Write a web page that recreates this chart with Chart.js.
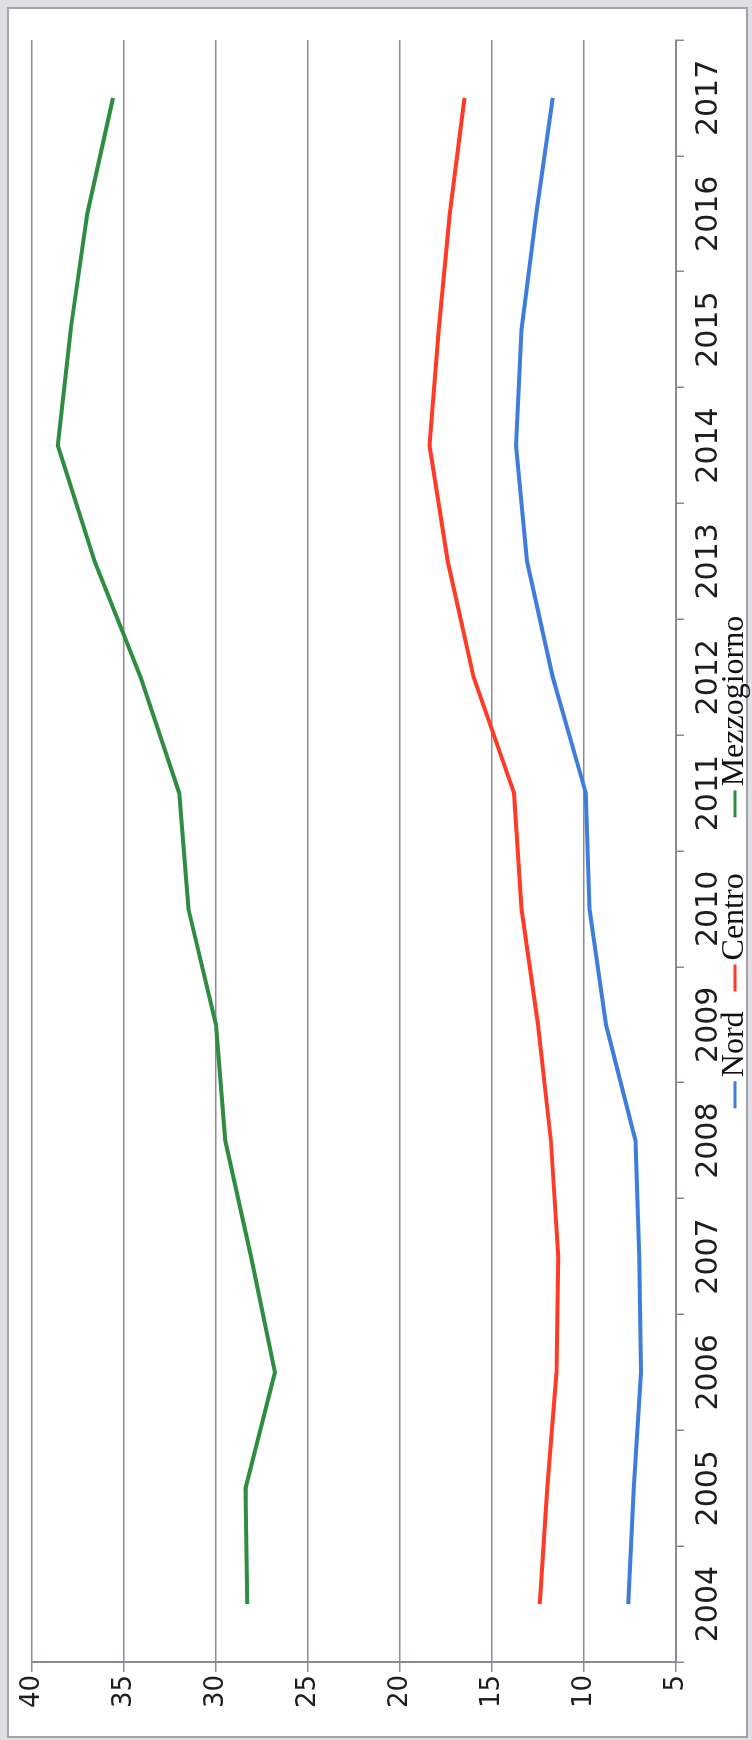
<!DOCTYPE html>
<html>
<head>
<meta charset="utf-8">
<title>Nord, Centro, Mezzogiorno 2004-2017</title>
<script src="https://cdn.jsdelivr.net/npm/chart.js@4.4.1/dist/chart.umd.min.js"></script>
<style>
  html, body { margin: 0; padding: 0; width: 752px; height: 1740px; overflow: hidden; background: #e0e0e4; }
  /* the chart is laid out landscape (1740 x 752) and turned a quarter turn to stand on the page */
  #turn { position: absolute; left: 0; top: 0; width: 1740px; height: 752px;
          transform-origin: 0 0; transform: translateY(1740px) rotate(-90deg); }
  #frame { position: absolute; left: 2px; top: 7px; width: 1731px; height: 741px;
           box-sizing: border-box; background: #ffffff; border: 2px solid #a4a4ac; }
  #chart { position: absolute; left: 0; top: 0; }
</style>
</head>
<body>
<div id="turn">
  <div id="frame"></div>
  <canvas id="chart" width="1740" height="752"></canvas>
</div>
<script>
// years on the category axis
const years = ['2004', '2005', '2006', '2007', '2008', '2009', '2010',
               '2011', '2012', '2013', '2014', '2015', '2016', '2017'];

// series values per area
const nord        = [7.6, 7.3, 6.9, 7.0, 7.2, 8.8, 9.7, 9.9, 11.7, 13.1, 13.7, 13.4, 12.6, 11.7];
const centro      = [12.4, 12.0, 11.5, 11.4, 11.8, 12.5, 13.4, 13.8, 16.0, 17.4, 18.4, 17.9, 17.3, 16.5];
const mezzogiorno = [28.3, 28.4, 26.8, 28.1, 29.5, 30.0, 31.5, 32.0, 34.1, 36.6, 38.6, 37.9, 37.0, 35.6];

// value axis range and step
const valueMin = 5;
const valueMax = 40;
const valueStep = 5;

const gridGrey = '#8a8a94';
const yearFont = { family: '"DejaVu Sans", Verdana, sans-serif', size: 30 };
const valueFont = { family: '"DejaVu Sans", Verdana, sans-serif', size: 26 };

function series(label, data, color) {
  return {
    label: label,
    data: data,
    borderColor: color,
    backgroundColor: color,
    borderWidth: 4,
    pointRadius: 0,
    pointHoverRadius: 0,
    tension: 0,
    fill: false
  };
}

// one-row key under the year labels: a short coloured dash, then the series name
const bottomKey = {
  id: 'bottomKey',
  afterDraw(chart, args, opts) {
    const ctx = chart.ctx;
    ctx.save();
    ctx.font = opts.size + 'px ' + opts.family;
    ctx.textAlign = 'left';
    ctx.textBaseline = 'middle';
    const items = chart.data.datasets.map((ds) => ({
      text: ds.label,
      color: ds.borderColor,
      w: ctx.measureText(ds.label).width
    }));
    const gaps = opts.itemGaps;
    const total = items.reduce((s, it) => s + opts.keyLength + opts.keyGap + it.w, 0)
                + gaps.reduce((s, g) => s + g, 0);
    let x = opts.centerX - total / 2;
    items.forEach((it, i) => {
      ctx.fillStyle = it.color;
      ctx.fillRect(x, opts.y - opts.keyWidth / 2, opts.keyLength, opts.keyWidth);
      x += opts.keyLength + opts.keyGap;
      ctx.fillStyle = opts.color;
      ctx.fillText(it.text, x, opts.y);
      x += it.w + (gaps[i] || 0);
    });
    ctx.restore();
  }
};

new Chart(document.getElementById('chart'), {
  type: 'line',
  data: {
    labels: years,
    datasets: [
      series('Nord', nord, '#3f7ddc'),
      series('Centro', centro, '#ff3a26'),
      series('Mezzogiorno', mezzogiorno, '#2e8d41')
    ]
  },
  plugins: [bottomKey],
  options: {
    responsive: false,
    animation: false,
    devicePixelRatio: 1,
    layout: { padding: { left: 0, right: 40, top: 32, bottom: 0 } },
    plugins: {
      tooltip: { enabled: false },
      legend: { display: false },
      bottomKey: {
        family: '"Liberation Serif", "Times New Roman", serif',
        size: 32,
        color: '#111111',
        centerX: 878,
        y: 735,
        keyLength: 27,
        keyWidth: 3,
        keyGap: 4,
        itemGaps: [20, 56]
      }
    },
    scales: {
      x: {
        type: 'category',
        offset: true,
        afterFit: (scale) => { scale.height = 76; },
        grid: {
          display: true,
          offset: true,
          drawOnChartArea: false,
          drawTicks: true,
          tickLength: 8,
          color: gridGrey,
          lineWidth: 1.5
        },
        border: { display: true, color: gridGrey, width: 2 },
        ticks: {
          font: yearFont,
          color: '#1e1e1e',
          maxRotation: 0,
          minRotation: 0,
          autoSkip: false,
          padding: 7
        }
      },
      y: {
        min: valueMin,
        max: valueMax,
        afterFit: (scale) => { scale.width = 78; },
        grid: {
          color: gridGrey,
          lineWidth: 1.5,
          drawTicks: true,
          tickLength: 10
        },
        border: { display: true, color: gridGrey, width: 2 },
        ticks: {
          stepSize: valueStep,
          font: valueFont,
          color: '#1e1e1e',
          padding: 3
        }
      }
    }
  }
});
</script>
</body>
</html>
